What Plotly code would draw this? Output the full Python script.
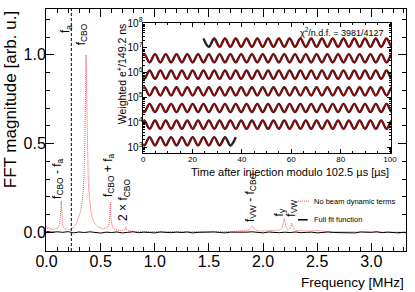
import plotly.graph_objects as go

# ---------------- main FFT panel data ----------------
fft_freq = [0.000, 0.010, 0.020, 0.030, 0.040, 0.050, 0.060, 0.070, 0.080, 0.090,
            0.100, 0.110, 0.120, 0.125, 0.130, 0.135, 0.140, 0.145, 0.150, 0.160,
            0.170, 0.180, 0.190, 0.200, 0.210, 0.220, 0.230, 0.240, 0.250, 0.260,
            0.270, 0.280, 0.290, 0.300, 0.310, 0.320, 0.330, 0.340, 0.345, 0.350,
            0.355, 0.360, 0.365, 0.370, 0.375, 0.380, 0.385, 0.390, 0.400, 0.410,
            0.420, 0.430, 0.440, 0.460, 0.480, 0.500, 0.520, 0.540, 0.560, 0.570,
            0.580, 0.585, 0.590, 0.595, 0.600, 0.610, 0.620, 0.640, 0.660, 0.680,
            0.700, 0.720, 0.730, 0.735, 0.740, 0.760, 0.800, 0.850, 0.900, 0.950,
            1.000, 1.050, 1.100, 1.150, 1.200, 1.250, 1.300, 1.350, 1.400, 1.450,
            1.500, 1.550, 1.600, 1.650, 1.700, 1.750, 1.800, 1.850, 1.880, 1.900,
            1.920, 1.950, 2.000, 2.050, 2.100, 2.150, 2.180, 2.195, 2.210, 2.230,
            2.250, 2.265, 2.280, 2.300, 2.350, 2.400, 2.450, 2.500, 2.550, 2.600,
            2.700, 2.800, 2.900, 3.000, 3.100, 3.200, 3.300, 3.350]
fft_no_beam_dyn = [0.035, 0.022, 0.028, 0.018, 0.025, 0.015, 0.022, 0.016, 0.020, 0.024,
                   0.022, 0.030, 0.045, 0.065, 0.110, 0.178, 0.100, 0.055, 0.038, 0.026,
                   0.020, 0.017, 0.022, 0.016, 0.020, 0.018, 0.024, 0.022, 0.030, 0.036,
                   0.045, 0.058, 0.072, 0.088, 0.110, 0.140, 0.180, 0.250, 0.310, 0.400,
                   0.550, 0.780, 1.000, 0.790, 0.560, 0.400, 0.300, 0.235, 0.165, 0.120,
                   0.090, 0.068, 0.055, 0.040, 0.030, 0.026, 0.022, 0.024, 0.028, 0.036,
                   0.065, 0.105, 0.170, 0.095, 0.055, 0.032, 0.022, 0.016, 0.013, 0.010,
                   0.012, 0.014, 0.022, 0.030, 0.016, 0.009, 0.007, 0.006, 0.005, 0.006,
                   0.004, 0.005, 0.004, 0.006, 0.004, 0.005, 0.004, 0.005, 0.004, 0.006,
                   0.005, 0.006, 0.005, 0.007, 0.006, 0.008, 0.010, 0.012, 0.018, 0.038,
                   0.020, 0.010, 0.008, 0.010, 0.012, 0.014, 0.030, 0.078, 0.035, 0.015,
                   0.025, 0.052, 0.025, 0.012, 0.010, 0.008, 0.009, 0.012, 0.007, 0.005,
                   0.004, 0.004, 0.003, 0.003, 0.003, 0.002, 0.002, 0.002]

full_freq = [0.00, 0.05, 0.10, 0.15, 0.20, 0.25, 0.30, 0.35, 0.40, 0.45,
             0.50, 0.55, 0.60, 0.65, 0.70, 0.75, 0.80, 0.85, 0.90, 0.95,
             1.00, 1.05, 1.10, 1.15, 1.20, 1.25, 1.30, 1.35, 1.40, 1.45,
             1.50, 1.55, 1.60, 1.65, 1.70, 1.75, 1.80, 1.85, 1.90, 1.95,
             2.00, 2.05, 2.10, 2.15, 2.20, 2.25, 2.30, 2.35, 2.40, 2.45,
             2.50, 2.55, 2.60, 2.65, 2.70, 2.75, 2.80, 2.85, 2.90, 2.95,
             3.00, 3.05, 3.10, 3.15, 3.20, 3.25, 3.30, 3.35]
full_fit = [0.006, 0.002, 0.004, 0.001, 0.005, -0.002, 0.003, 0.000, 0.004, 0.001,
            -0.003, 0.002, 0.000, 0.003, -0.002, 0.001, 0.004, -0.001, 0.002, 0.000,
            -0.002, 0.003, 0.001, -0.001, 0.002, 0.000, 0.003, -0.002, 0.001, 0.002,
            -0.001, 0.003, 0.000, -0.002, 0.002, 0.001, -0.001, 0.002, 0.004, 0.000,
            -0.002, 0.003, 0.001, -0.001, 0.002, 0.000, 0.003, -0.001, 0.001, 0.002,
            -0.002, 0.001, 0.003, 0.000, -0.001, 0.002, 0.001, -0.002, 0.003, 0.000,
            0.001, 0.004, -0.001, 0.002, 0.000, -0.002, 0.001, 0.000]

fa_freq = 0.229

peak_labels = ["f<sub>CBO</sub> - f<sub>a</sub>", "f<sub>a</sub>", "f<sub>CBO</sub>",
               "f<sub>CBO</sub> + f<sub>a</sub>", "2 × f<sub>CBO</sub>",
               "f<sub>VW</sub> - f<sub>CBO</sub>", "f<sub>y</sub>", "f<sub>VW</sub>"]
peak_label_f = [0.105, 0.187, 0.324, 0.570, 0.717, 1.887, 2.152, 2.270]
peak_label_mag = [0.18, 1.11, 1.04, 0.19, 0.055, 0.05, 0.077, 0.077]

# ---------------- inset wiggle data ----------------
wiggle_t = [-1.78, 0.40, 2.58, 4.77, 6.95, 9.13, 11.31, 13.50, 15.68, 17.86,
            20.04, 22.23, 24.41, 26.59, 28.77, 30.96, 33.14, 35.32, 37.50, 39.69,
            41.87, 44.05, 46.23, 48.42, 50.60, 52.78, 54.96, 57.15, 59.33, 61.51,
            63.69, 65.88, 68.06, 70.24, 72.42, 74.61, 76.79, 78.97, 81.15, 83.34,
            85.52, 87.70, 89.88, 92.07, 94.25, 96.43, 98.61, 100.80, 102.98]
row_log_level = [7.21, 6.58, 5.92, 5.25, 4.58, 3.91, 3.24]
row_first_high = [True, False, True, False, True, False, True]
wiggle_log_amp = 0.167
row_data_start = [24.0, -3, -3, -3, -3, -3, -3]
row_data_end = [104, 104, 104, 104, 104, 104, 38.0]
row_fit_start = [28.7, -3, -3, -3, -3, -3, -3]
row_fit_end = [104, 104, 104, 104, 104, 104, 33.2]

FONT = "Liberation Sans, Arial, sans-serif"
RED = "#ff5050"

fig = go.Figure()

fig.add_trace(go.Scatter(x=fft_freq, y=fft_no_beam_dyn, mode="lines",
                         line=dict(color=RED, width=1, dash="1px,1px"),
                         showlegend=False, xaxis="x", yaxis="y"))
fig.add_trace(go.Scatter(x=full_freq, y=full_fit, mode="lines",
                         line=dict(color="black", width=1),
                         showlegend=False, xaxis="x", yaxis="y"))

# dashed f_a marker
fig.add_shape(type="line", xref="x", yref="paper", x0=fa_freq, x1=fa_freq, y0=0, y1=1,
              line=dict(color="black", width=1, dash="3px,2px"))

for txt, fx, fy in zip(peak_labels, peak_label_f, peak_label_mag):
    fig.add_annotation(x=fx, y=fy, xref="x", yref="y", text=txt, textangle=-90,
                       showarrow=False, xanchor="center", yanchor="bottom",
                       font=dict(family=FONT, size=12, color="black"))

# inset rows
for k in range(len(row_log_level)):
    ts, ys = [], []
    fts, fys = [], []
    for i, t in enumerate(wiggle_t):
        high = (i % 2 == 0) == row_first_high[k]
        val = 10 ** (row_log_level[k] + (wiggle_log_amp if high else -wiggle_log_amp))
        if row_data_start[k] <= t <= row_data_end[k]:
            ts.append(t); ys.append(val)
        if row_fit_start[k] <= t <= row_fit_end[k]:
            fts.append(t); fys.append(val)
    fig.add_trace(go.Scatter(x=ts, y=ys, mode="lines",
                             line=dict(color="#222222", width=2.4, shape="spline", smoothing=1.0),
                             showlegend=False, xaxis="x2", yaxis="y2"))
    fig.add_trace(go.Scatter(x=fts, y=fys, mode="lines",
                             line=dict(color="#a80000", width=1.3, shape="spline", smoothing=1.0),
                             showlegend=False, xaxis="x2", yaxis="y2"))

axis_common = dict(showline=True, linecolor="black", linewidth=1, mirror="allticks",
                   ticks="inside", tickcolor="black", showgrid=False, zeroline=False)

fig.update_layout(
    width=415, height=292, autosize=False,
    margin=dict(l=46, r=3, t=3, b=41, pad=0),
    paper_bgcolor="white", plot_bgcolor="white",
    font=dict(family=FONT, color="black"),
    xaxis=dict(**axis_common, range=[-0.005, 3.32], dtick=0.5, tick0=0, tickformat=".1f",
               ticklen=8, tickwidth=1, tickfont=dict(size=16), ticklabelstandoff=-4,
               minor=dict(dtick=0.1, tick0=0, ticks="inside", ticklen=4, tickcolor="black", showgrid=False)),
    yaxis=dict(**axis_common, range=[-0.104, 1.258], dtick=0.5, tick0=0, tickformat=".1f",
               ticklen=8, tickwidth=1, tickfont=dict(size=16), ticklabelstandoff=-4,
               minor=dict(dtick=0.1, tick0=0, ticks="inside", ticklen=4, tickcolor="black", showgrid=False)),
    xaxis2=dict(**axis_common, domain=[0.270, 0.959], anchor="y2", range=[0, 100.5],
                dtick=20, tick0=0, ticklen=4, tickfont=dict(size=8), ticklabelstandoff=-2,
                minor=dict(dtick=5, tick0=0, ticks="inside", ticklen=2, tickcolor="black", showgrid=False)),
    yaxis2=dict(**axis_common, domain=[0.403, 0.944], anchor="x2", type="log",
                range=[2.75, 8.02], dtick=1, exponentformat="power", ticklen=4,
                tickfont=dict(size=8), ticklabelstandoff=-2,
                minor=dict(dtick="D1", ticks="inside", ticklen=2, tickcolor="black", showgrid=False)),
)

# axis titles
fig.add_annotation(xref="paper", yref="paper", x=1.0, y=-0.13, xanchor="right", yanchor="middle",
                   text="Frequency [MHz]", showarrow=False, font=dict(family=FONT, size=13.5))
fig.add_annotation(xref="paper", yref="paper", x=-0.098, y=1.0, xanchor="center", yanchor="top",
                   text="FFT magnitude [arb. u.]", textangle=-90, showarrow=False,
                   font=dict(family=FONT, size=17))
fig.add_annotation(xref="x2 domain", yref="y2 domain", x=1.0, y=-0.14, xanchor="right", yanchor="middle",
                   text="Time after injection modulo 102.5 µs [µs]", showarrow=False,
                   font=dict(family=FONT, size=11))
fig.add_annotation(xref="paper", yref="paper", x=0.210, y=0.944, xanchor="center", yanchor="top",
                   text="Weighted e<sup>+</sup>/149.2 ns", textangle=-90, showarrow=False,
                   font=dict(family=FONT, size=10.5))
fig.add_annotation(xref="x2 domain", yref="y2 domain", x=0.98, y=0.925, xanchor="right", yanchor="middle",
                   text="χ<sup>2</sup>/n.d.f. = 3981/4127", showarrow=False,
                   font=dict(family=FONT, size=9))

# legend (drawn manually to match the compact style)
fig.add_shape(type="line", xref="paper", yref="paper", x0=0.700, x1=0.733, y0=0.206, y1=0.206,
              line=dict(color=RED, width=1, dash="1px,1px"))
fig.add_shape(type="line", xref="paper", yref="paper", x0=0.700, x1=0.727, y0=0.129, y1=0.129,
              line=dict(color="black", width=1.5))
fig.add_annotation(xref="paper", yref="paper", x=0.738, y=0.206, xanchor="left", yanchor="middle",
                   text="No beam dynamic terms", showarrow=False, font=dict(family=FONT, size=7.5))
fig.add_annotation(xref="paper", yref="paper", x=0.738, y=0.129, xanchor="left", yanchor="middle",
                   text="Full fit function", showarrow=False, font=dict(family=FONT, size=7.5))

fig.write_html("out.html", config={"displayModeBar": False},
               post_script="document.body.style.margin='0px';")
